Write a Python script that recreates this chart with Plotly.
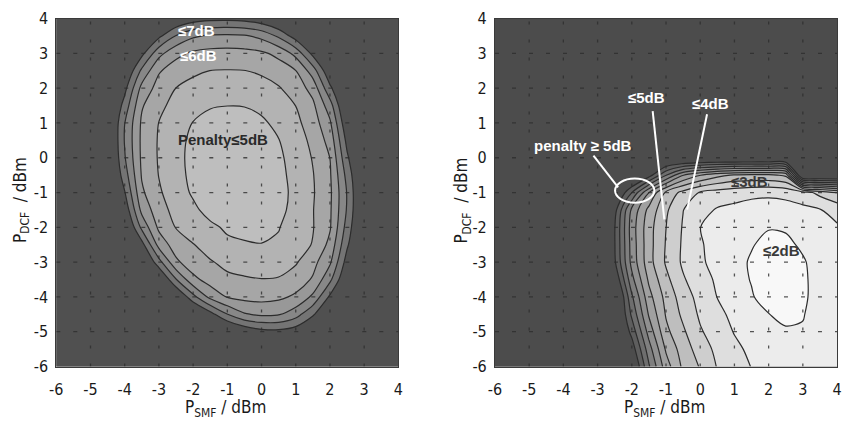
import plotly.graph_objects as go

# ---------------- data ----------------
smf_grid = [-6, -5.5, -5, -4.5, -4, -3.5, -3, -2.5, -2, -1.5, -1, -0.5, 0, 0.5, 1, 1.5, 2, 2.5, 3, 3.5, 4]
dcf_grid = [-6, -5.5, -5, -4.5, -4, -3.5, -3, -2.5, -2, -1.5, -1, -0.5, 0, 0.5, 1, 1.5, 2, 2.5, 3, 3.5, 4]
tick_vals = [-6, -5, -4, -3, -2, -1, 0, 1, 2, 3, 4]
tick_text = ["-6", "-5", "-4", "-3", "-2", "-1", "0", "1", "2", "3", "4"]

# penalty (dB); rows follow dcf_grid, columns follow smf_grid
left_penalty = [
    [12, 12, 12, 12, 12, 12, 12, 12, 12, 12, 12, 12, 12, 12, 12, 12, 12, 12, 12, 12, 12],
    [12, 12, 12, 12, 12, 12, 12, 12, 12, 12, 12, 12, 11.8, 11.75, 11.8, 12, 12, 12, 12, 12, 12],
    [12, 12, 12, 12, 12, 12, 12, 12, 12, 11.9, 11.56, 10.83, 10.35, 10.27, 10.59, 11.31, 11.76, 12, 12, 12, 12],
    [12, 12, 12, 12, 12, 12, 12, 12, 11.6, 10.39, 9.02, 8.1, 7.82, 7.92, 8.58, 9.86, 11.22, 11.9, 12, 12, 12],
    [12, 12, 12, 12, 12, 12, 12, 11.26, 9.33, 7.71, 6.94, 6.71, 6.66, 6.79, 7.17, 8.2, 10.18, 11.66, 12, 12, 12],
    [12, 12, 12, 12, 12, 12, 11.37, 9.06, 7.27, 6.59, 6.25, 6.12, 6.03, 6.06, 6.45, 7.11, 8.77, 11.11, 12, 12, 12],
    [12, 12, 12, 12, 12, 11.61, 9.38, 7.2, 6.41, 6.1, 5.7, 5.52, 5.5, 5.65, 5.9, 6.67, 7.84, 10.45, 11.9, 12, 12],
    [12, 12, 12, 12, 11.92, 10.38, 7.64, 6.5, 6.05, 5.5, 5.2, 5.1, 5.03, 5.15, 5.6, 6.05, 7.28, 9.84, 11.77, 12, 12],
    [12, 12, 12, 12, 11.55, 8.75, 6.79, 5.96, 5.43, 5.2, 4.85, 4.7, 4.72, 4.95, 5.53, 5.95, 6.9, 9.41, 11.71, 12, 12],
    [12, 12, 12, 12, 10.73, 7.71, 6.41, 5.67, 5.2, 4.66, 4.37, 4.34, 4.47, 4.75, 5.3, 5.96, 6.85, 9.1, 11.66, 12, 12],
    [12, 12, 12, 11.9, 10.06, 7.17, 6.13, 5.46, 4.87, 4.4, 4.22, 4.18, 4.35, 4.74, 5.2, 5.91, 6.81, 9.06, 11.67, 12, 12],
    [12, 12, 12, 11.77, 9.48, 6.91, 5.97, 5.33, 4.76, 4.34, 4.12, 4.11, 4.33, 4.74, 5.31, 5.95, 6.88, 9.33, 11.73, 12, 12],
    [12, 12, 12, 11.68, 9.08, 6.81, 5.91, 5.28, 4.73, 4.34, 4.18, 4.2, 4.38, 4.82, 5.4, 6.06, 7.01, 9.82, 11.83, 12, 12],
    [12, 12, 12, 11.63, 8.93, 6.79, 5.91, 5.31, 4.79, 4.43, 4.34, 4.35, 4.56, 4.97, 5.55, 6.23, 7.36, 10.29, 11.96, 12, 12],
    [12, 12, 12, 11.63, 9.01, 6.84, 5.98, 5.43, 4.97, 4.71, 4.63, 4.66, 4.85, 5.23, 5.76, 6.49, 7.84, 10.86, 12, 12, 12],
    [12, 12, 12, 11.73, 9.59, 7.1, 6.24, 5.68, 5.3, 5.07, 5.01, 5.03, 5.21, 5.55, 6.01, 6.78, 8.56, 11.43, 12, 12, 12],
    [12, 12, 12, 11.87, 10.3, 7.69, 6.6, 5.99, 5.69, 5.53, 5.48, 5.51, 5.65, 5.92, 6.46, 7.36, 9.77, 11.72, 12, 12, 12],
    [12, 12, 12, 12, 11.17, 8.78, 7.1, 6.53, 6.18, 5.99, 5.96, 5.98, 6.14, 6.48, 6.98, 8.5, 10.9, 12, 12, 12, 12],
    [12, 12, 12, 12, 11.71, 10.29, 8.32, 7.26, 6.83, 6.69, 6.66, 6.69, 6.83, 7.26, 8.32, 10.29, 11.71, 12, 12, 12, 12],
    [12, 12, 12, 12, 12, 11.54, 10.24, 8.94, 8.14, 7.86, 7.81, 7.89, 8.27, 9.17, 10.49, 11.63, 12, 12, 12, 12, 12],
    [12, 12, 12, 12, 12, 12, 11.63, 11.05, 10.52, 10.29, 10.25, 10.35, 10.7, 11.36, 11.76, 12, 12, 12, 12, 12, 12],
]

right_penalty = [
    [14, 14, 14, 14, 14, 14, 14, 14, 13.5, 10.13, 7.47, 5.79, 4.92, 3.94, 3.45, 2.97, 2.7, 2.6, 2.6, 2.7, 2.85],
    [14, 14, 14, 14, 14, 14, 14, 14, 12.6, 9.44, 6.86, 5.52, 4.53, 3.74, 3.21, 2.8, 2.55, 2.4, 2.4, 2.55, 2.8],
    [14, 14, 14, 14, 14, 14, 14, 14, 11.67, 8.61, 6.26, 5.16, 4.11, 3.5, 2.95, 2.6, 2.3, 2.12, 2.08, 2.4, 2.75],
    [14, 14, 14, 14, 14, 14, 14, 14, 10.8, 7.89, 5.91, 4.78, 3.84, 3.25, 2.75, 2.38, 2.02, 1.75, 1.95, 2.4, 2.7],
    [14, 14, 14, 14, 14, 14, 14, 14, 10.17, 7.35, 5.67, 4.5, 3.64, 2.98, 2.55, 2.08, 1.6, 1.5, 1.85, 2.35, 2.65],
    [14, 14, 14, 14, 14, 14, 14, 13, 9.31, 6.82, 5.27, 4.11, 3.4, 2.85, 2.35, 1.95, 1.55, 1.45, 1.85, 2.35, 2.65],
    [14, 14, 14, 14, 14, 14, 14, 12.16, 8.68, 6.38, 4.88, 3.83, 3.14, 2.7, 2.3, 1.9, 1.55, 1.45, 1.9, 2.4, 2.7],
    [14, 14, 14, 14, 14, 14, 14, 12.05, 8.58, 6.37, 4.93, 3.85, 3.08, 2.7, 2.4, 2.06, 1.75, 1.8, 2.15, 2.5, 2.8],
    [14, 14, 14, 14, 14, 14, 14, 12.05, 8.5, 6.38, 5.01, 3.91, 3.01, 2.6, 2.35, 2.15, 2.05, 2.1, 2.35, 2.6, 2.9],
    [14, 14, 14, 14, 14, 14, 14, 12.4, 8.75, 6.71, 5.17, 4.02, 3.38, 2.9, 2.75, 2.6, 2.55, 2.6, 2.75, 2.95, 3.3],
    [14, 14, 14, 14, 14, 14, 14, 13.5, 11.02, 8.02, 5.8, 4.67, 3.9, 3.6, 3.4, 3.25, 3.2, 3.3, 3.6, 4.3, 5.02],
    [14, 14, 14, 14, 14, 14, 14, 14, 14, 12.5, 10.05, 8.05, 7.05, 6.3, 5.9, 5.8, 5.8, 6.2, 14, 14, 14],
    [14, 14, 14, 14, 14, 14, 14, 14, 14, 14, 14, 14, 14, 14, 14, 14, 14, 14, 14, 14, 14],
    [14, 14, 14, 14, 14, 14, 14, 14, 14, 14, 14, 14, 14, 14, 14, 14, 14, 14, 14, 14, 14],
    [14, 14, 14, 14, 14, 14, 14, 14, 14, 14, 14, 14, 14, 14, 14, 14, 14, 14, 14, 14, 14],
    [14, 14, 14, 14, 14, 14, 14, 14, 14, 14, 14, 14, 14, 14, 14, 14, 14, 14, 14, 14, 14],
    [14, 14, 14, 14, 14, 14, 14, 14, 14, 14, 14, 14, 14, 14, 14, 14, 14, 14, 14, 14, 14],
    [14, 14, 14, 14, 14, 14, 14, 14, 14, 14, 14, 14, 14, 14, 14, 14, 14, 14, 14, 14, 14],
    [14, 14, 14, 14, 14, 14, 14, 14, 14, 14, 14, 14, 14, 14, 14, 14, 14, 14, 14, 14, 14],
    [14, 14, 14, 14, 14, 14, 14, 14, 14, 14, 14, 14, 14, 14, 14, 14, 14, 14, 14, 14, 14],
    [14, 14, 14, 14, 14, 14, 14, 14, 14, 14, 14, 14, 14, 14, 14, 14, 14, 14, 14, 14, 14],
]

left_levels = dict(start=5, end=10, size=1)
right_levels = dict(start=2, end=12, size=1)

left_grays = ["#bebebe", "#b3b3b3", "#a6a6a6", "#989898", "#878787", "#747474", "#505050"]
right_grays = ["#f8f8f8", "#ececec", "#dedede", "#cecece", "#bebebe", "#afafaf",
               "#a0a0a0", "#909090", "#7f7f7f", "#6e6e6e", "#5e5e5e", "#4c4c4c"]

# ---------------- figure ----------------
def scale(grays):
    n = len(grays) - 1
    return [[i / n, g] for i, g in enumerate(grays)]

TICKFONT = "DejaVu Sans Condensed, Liberation Sans, Arial, sans-serif"
LINE = dict(color="#2c2c2c", width=1.2, smoothing=0.85)

fig = go.Figure()
fig.add_trace(go.Contour(
    x=smf_grid, y=dcf_grid, z=left_penalty, autocontour=False,
    contours=dict(coloring="fill", showlines=True, **left_levels),
    colorscale=scale(left_grays), showscale=False, line=LINE,
    xaxis="x", yaxis="y", hoverinfo="skip"))
fig.add_trace(go.Contour(
    x=smf_grid, y=dcf_grid, z=right_penalty, autocontour=False,
    contours=dict(coloring="fill", showlines=True, **right_levels),
    colorscale=scale(right_grays), showscale=False, line=LINE,
    xaxis="x2", yaxis="y2", hoverinfo="skip"))

W, H = 845, 431
L1, R1 = 50, 397
L2, R2 = 495, 842
T, B = 10, 374

axis_common = dict(range=[-6, 4], tickvals=tick_vals, ticktext=tick_text, showgrid=False, zeroline=False,
                   showline=True, mirror=True, linecolor="#3a3a3a", linewidth=1,
                   ticks="", tickfont=dict(family=TICKFONT, size=16, color="#1a1a1a"))

fig.update_layout(
    width=W, height=H, margin=dict(l=0, r=0, t=0, b=0),
    paper_bgcolor="white", plot_bgcolor="#4d4d4d", showlegend=False,
    xaxis=dict(domain=[L1 / W, R1 / W], anchor="y", ticklabelstandoff=8, **axis_common),
    yaxis=dict(domain=[1 - B / H, 1 - T / H], anchor="x", ticklabelstandoff=4, **axis_common),
    xaxis2=dict(domain=[L2 / W, R2 / W], anchor="y2", ticklabelstandoff=8, **axis_common),
    yaxis2=dict(domain=[1 - B / H, 1 - T / H], anchor="x2", ticklabelstandoff=4, **axis_common),
)

# dotted grid at integer ticks (drawn above the fill, like the original)
shapes = []
for xa, ya in (("x", "y"), ("x2", "y2")):
    for t in tick_vals[1:-1]:
        shapes.append(dict(type="line", xref=xa, yref=ya, x0=t, x1=t, y0=-6, y1=4, layer="above",
                           line=dict(color="rgba(45,45,45,0.8)", width=1.3, dash="3px,15px")))
        shapes.append(dict(type="line", xref=xa, yref=ya, x0=-6, x1=4, y0=t, y1=t, layer="above",
                           line=dict(color="rgba(45,45,45,0.8)", width=1.3, dash="4px,13px")))

# white pointer lines and ellipse (right panel)
white = dict(color="white", width=2)
for (xa0, ya0, xa1, ya1) in [(-1.39, 1.34, -1.05, -1.77), (0.2, 1.25, -0.38, -1.49), (-3.12, 0.06, -2.4, -0.85)]:
    shapes.append(dict(type="line", xref="x2", yref="y2", x0=xa0, y0=ya0, x1=xa1, y1=ya1,
                       layer="above", line=white))
shapes.append(dict(type="circle", xref="x2", yref="y2", x0=-2.49, x1=-1.34, y0=-1.29, y1=-0.6,
                   layer="above", line=white))
fig.update_layout(shapes=shapes)

LBL = "Liberation Sans, Arial, sans-serif"
ann = []
def label(text, x, y, xref, yref, color, size=15):
    ann.append(dict(text=text, x=x, y=y, xref=xref, yref=yref, showarrow=False,
                    font=dict(family=LBL, size=size, color=color)))

label("<b>≤7dB</b>", -1.91, 3.67, "x", "y", "white")
label("<b>≤6dB</b>", -1.85, 2.93, "x", "y", "white")
label("<b>Penalty≤5dB</b>", -1.12, 0.52, "x", "y", "#2a2a2a")
label("<b>≤5dB</b>", -1.58, 1.73, "x2", "y2", "white")
label("<b>≤4dB</b>", 0.31, 1.56, "x2", "y2", "white")
label("<b>penalty ≥ 5dB</b>", -3.44, 0.35, "x2", "y2", "white")
label("<b>≤3dB</b>", 1.45, -0.67, "x2", "y2", "#3a3a3a")
label("<b>≤2dB</b>", 2.39, -2.66, "x2", "y2", "#3a3a3a")

# axis titles
TF = dict(family=TICKFONT, size=17, color="#1a1a1a")
for cx in ((L1 + R1) / 2, (L2 + R2) / 2):
    ann.append(dict(text="P<sub>SMF</sub> / dBm", x=(cx - 2) / W, y=1 - 404 / H, xref="paper", yref="paper",
                    showarrow=False, font=TF, xanchor="center", yanchor="top"))
for cx in (14, 462):
    ann.append(dict(text="P<sub>DCF</sub>  / dBm", x=cx / W, y=1 - 200 / H, xref="paper", yref="paper",
                    showarrow=False, font=TF, textangle=-90, xanchor="center", yanchor="middle"))
fig.update_layout(annotations=ann)

fig.write_html("out.html")
